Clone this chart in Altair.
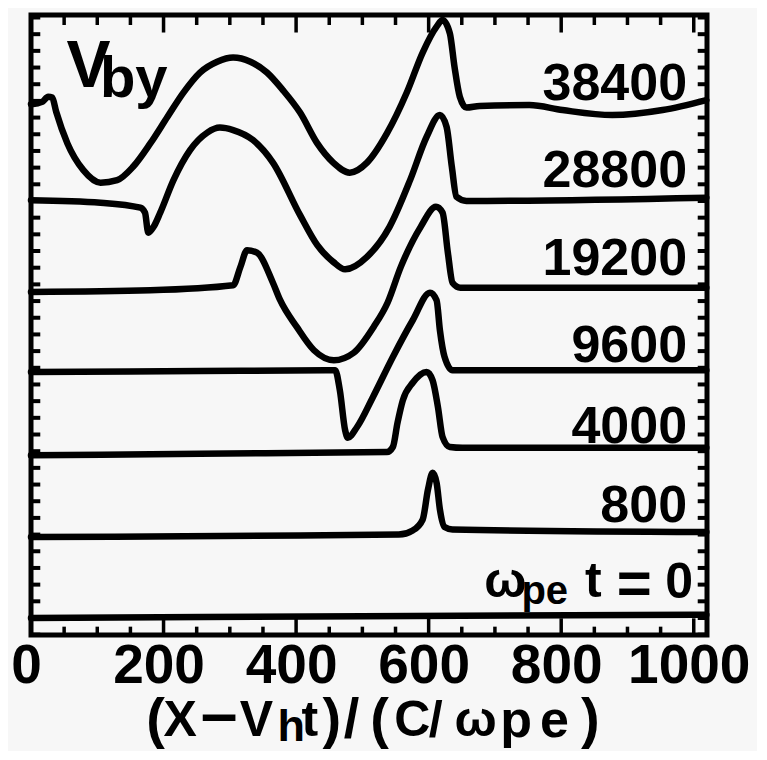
import altair as alt
import pandas as pd

FONT = "Liberation Sans, Arial, Helvetica, sans-serif"

# ---- axis extents (data units) ----
XMIN, XMAX = 0, 1020
YMIN, YMAX = -0.204, 7.23   # one unit = vertical spacing between traces

# ---- traces: time labels, x positions and V_by (in trace-spacing units) ----
times = ["0", "800", "4000", "9600", "19200", "28800", "38400"]

x_t0 = [0, 500, 1019]
v_t0 = [0.0, 0.02, 0.04]

x_t800 = [0, 406, 555, 576, 591, 599, 606, 612, 617, 624, 636, 1019]
v_t800 = [-0.03, -0.01, 0.0, 0.05, 0.18, 0.54, 0.74, 0.62, 0.30, 0.09, 0.06, 0.03]

x_t4000 = [0, 255, 537, 546, 553, 561, 576, 597, 606, 614, 621, 632, 651, 1019]
v_t4000 = [-0.05, -0.03, -0.01, 0.05, 0.34, 0.61, 0.82, 0.95, 0.85, 0.53, 0.17, 0.05, 0.04, 0.04]

x_t9600 = [0, 255, 459, 466, 474, 478, 492, 516, 546, 576, 602, 612, 617, 624, 636, 1019]
v_t9600 = [-0.05, -0.04, -0.03, -0.27, -0.75, -0.84, -0.71, -0.35, 0.13, 0.57, 0.90, 0.81, 0.45, 0.13, -0.03, -0.03]

x_t19200 = [0, 180, 305, 316, 326, 341, 365, 376, 401, 427, 457, 487, 517, 538, 558, 588, 611, 621, 629, 636, 648, 1019]
v_t19200 = [-0.09, -0.07, -0.01, 0.21, 0.41, 0.38, 0.02, -0.19, -0.51, -0.79, -0.91, -0.82, -0.51, -0.22, 0.21, 0.69, 0.93, 0.86, 0.38, 0.02, -0.04, -0.04]

x_t28800 = [0, 105, 165, 172, 177, 185, 195, 215, 240, 266, 285, 305, 335, 365, 406, 432, 456, 474, 507, 541, 572, 597, 617, 627, 635, 642, 657, 1019]
v_t28800 = [0.01, -0.02, -0.08, -0.14, -0.38, -0.31, -0.14, 0.25, 0.61, 0.82, 0.88, 0.85, 0.73, 0.46, -0.17, -0.53, -0.73, -0.82, -0.67, -0.31, 0.25, 0.77, 1.03, 0.89, 0.41, 0.05, 0.00, 0.04]

x_t38400 = [0, 17, 26, 32, 38, 55, 79, 105, 130, 154, 180, 206, 230, 255, 281, 305, 331, 356, 380, 406, 432, 456, 481, 507, 537, 567, 591, 612, 621, 632, 639, 647, 657, 677, 752, 802, 877, 953, 1019]
v_t38400 = [0.16, 0.19, 0.25, 0.24, 0.07, -0.31, -0.63, -0.78, -0.75, -0.59, -0.31, 0.01, 0.30, 0.54, 0.67, 0.72, 0.67, 0.54, 0.33, 0.06, -0.31, -0.54, -0.66, -0.54, -0.19, 0.30, 0.78, 1.09, 1.17, 1.01, 0.61, 0.25, 0.12, 0.14, 0.15, 0.09, 0.03, 0.09, 0.21]

xs_all = [x_t0, x_t800, x_t4000, x_t9600, x_t19200, x_t28800, x_t38400]
vs_all = [v_t0, v_t800, v_t4000, v_t9600, v_t19200, v_t28800, v_t38400]

# time-label vertical position above each trace's offset
label_dy = [0.15, 0.10, 0.07, 0.11, 0.17, 0.21]   # for 800 ... 38400
label_x = 990

# ---- tick positions ----
x_major = [0, 200, 400, 600, 800, 1000]
x_minor = [50, 100, 150, 250, 300, 350, 450, 500, 550, 650, 700, 750, 850, 900, 950]
y_ticks = [round(-0.2 + 0.2 * i, 2) for i in range(38)]

# ---- build tables ----
rows = []
for k, (t, xs, vs) in enumerate(zip(times, xs_all, vs_all)):
    for i, (x, v) in enumerate(zip(xs, vs)):
        rows.append({"series": t, "i": i, "x": x, "y": k + v})
traces = pd.DataFrame(rows)

labels = pd.DataFrame({
    "t": times[1:],
    "x": [label_x] * len(label_dy),
    "y": [k + 1 + d for k, d in enumerate(label_dy)],
})

top_ticks = pd.DataFrame({
    "x": x_major + x_minor,
    "y0": [YMAX] * (len(x_major) + len(x_minor)),
    "y1": [YMAX - 0.21] * len(x_major) + [YMAX - 0.12] * len(x_minor),
})
bot_ticks = pd.DataFrame({
    "x": x_major + x_minor,
    "y0": [YMIN] * (len(x_major) + len(x_minor)),
    "y1": [YMIN + 0.2] * len(x_major) + [YMIN + 0.10] * len(x_minor),
})
left_ticks = pd.DataFrame({"y": y_ticks, "x0": [XMIN] * len(y_ticks), "x1": [XMIN + 14] * len(y_ticks)})
right_ticks = pd.DataFrame({"y": y_ticks, "x0": [XMAX - 14] * len(y_ticks), "x1": [XMAX] * len(y_ticks)})

# annotation pieces: text, x (data), y (data), font size
ann = pd.DataFrame([
    # V_by
    {"t": "V", "x": 53.5, "y": 6.367, "s": 66},
    {"t": "by", "x": 104.0, "y": 6.247, "s": 58},
    # omega_pe t = 0
    {"t": "ω", "x": 684, "y": 0.252, "s": 50},
    {"t": "pe", "x": 740, "y": 0.168, "s": 40},
    {"t": "t", "x": 836, "y": 0.252, "s": 50},
    {"t": "=", "x": 884, "y": 0.185, "s": 60},
    {"t": "0", "x": 957, "y": 0.240, "s": 50},
    # x-axis title (x - v_h t)/(c/omega_pe)
    {"t": "(", "x": 174, "y": -1.427, "s": 56},
    {"t": "X", "x": 200, "y": -1.415, "s": 50},
    {"t": "–", "x": 256, "y": -1.415, "s": 66},
    {"t": "V", "x": 315, "y": -1.415, "s": 50},
    {"t": "h", "x": 372, "y": -1.47, "s": 45},
    {"t": "t", "x": 408, "y": -1.415, "s": 50},
    {"t": ")", "x": 440, "y": -1.427, "s": 56},
    {"t": "/", "x": 472, "y": -1.427, "s": 56},
    {"t": "(", "x": 512, "y": -1.427, "s": 56},
    {"t": "C", "x": 548, "y": -1.415, "s": 50},
    {"t": "/", "x": 600, "y": -1.415, "s": 50},
    {"t": "ω", "x": 639, "y": -1.415, "s": 50},
    {"t": "p", "x": 708, "y": -1.43, "s": 52},
    {"t": "e", "x": 768, "y": -1.43, "s": 52},
    {"t": ")", "x": 830, "y": -1.427, "s": 56},
])

# ---- scales / axes ----
XS = alt.Scale(domain=[XMIN, XMAX], nice=False, zero=False)
YS = alt.Scale(domain=[YMIN, YMAX], nice=False, zero=False)
XAX = alt.Axis(values=x_major, format="d", ticks=False, tickSize=0, domain=False, grid=False, title=None,
               labelFontSize=55, labelFont=FONT, labelFontWeight="bold", labelColor="black",
               labelPadding=4, labelOffset=-5, labelFlush=False, labelOverlap=False)

lines = alt.Chart(traces).mark_line(
    color="black", strokeWidth=6.5, interpolate="monotone", strokeCap="round", strokeJoin="round"
).encode(
    x=alt.X("x:Q", scale=XS, axis=XAX),
    y=alt.Y("y:Q", scale=YS, axis=None),
    detail="series:N",
    order="i:Q",
)

def hticks(df):
    return alt.Chart(df).mark_rule(color="black", strokeWidth=3.5).encode(
        x=alt.X("x:Q", scale=XS, axis=XAX),
        y=alt.Y("y0:Q", scale=YS, axis=None),
        y2="y1:Q",
    )

def vticks(df):
    return alt.Chart(df).mark_rule(color="black", strokeWidth=4).encode(
        x=alt.X("x0:Q", scale=XS, axis=XAX),
        x2="x1:Q",
        y=alt.Y("y:Q", scale=YS, axis=None),
    )

time_text = alt.Chart(labels).mark_text(
    align="right", baseline="alphabetic", font=FONT, fontSize=52, fontWeight="bold", color="black"
).encode(
    x=alt.X("x:Q", scale=XS, axis=XAX),
    y=alt.Y("y:Q", scale=YS, axis=None),
    text="t:N",
)

ann_text = alt.Chart(ann).mark_text(
    align="left", baseline="alphabetic", font=FONT, fontWeight="bold", color="black"
).encode(
    x=alt.X("x:Q", scale=XS, axis=XAX),
    y=alt.Y("y:Q", scale=YS, axis=None),
    text="t:N",
    size=alt.Size("s:Q", scale=None),
)

chart = alt.layer(
    lines, hticks(top_ticks), hticks(bot_ticks), vticks(left_ticks), vticks(right_ticks),
    time_text, ann_text,
).properties(
    width=676, height=620,
    autosize=alt.AutoSizeParams(type="none"),
    padding={"left": 23, "top": 7, "right": 50, "bottom": 116},
    background="#f7f7f7",
).configure_view(stroke="black", strokeWidth=5)

chart.save("out.html", embed_options={"renderer": "svg", "actions": False})
